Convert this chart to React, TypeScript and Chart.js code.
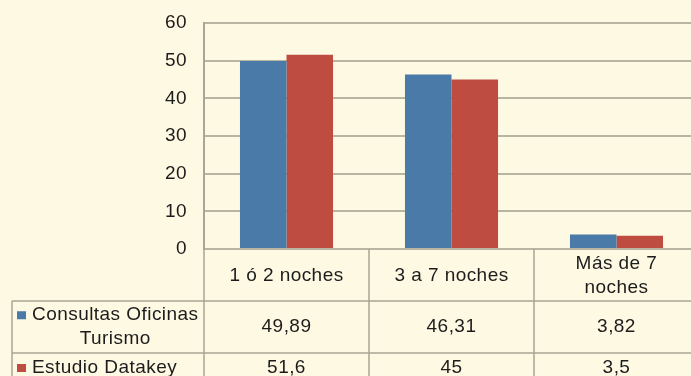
import React, { useEffect, useRef } from "react";
import { Chart, registerables } from "chart.js";

Chart.register(...registerables);

// Categories (multi-line labels as shown in the data table header)
const categories: string[][] = [["1 ó 2 noches"], ["3 a 7 noches"], ["Más de 7", "noches"]];

// Series names (wrapped as in the table's legend column)
const seriesNames: string[][] = [["Consultas Oficinas", "Turismo"], ["Estudio Datakey"]];

// Series values (%)
const consultasOficinas: number[] = [49.89, 46.31, 3.82];
const estudioDatakey: number[] = [51.6, 45, 3.5];

// Value axis
const yMin = 0;
const yMax = 60;
const yStep = 10;

const seriesColors = ["#4A7AA7", "#BE4C41"];
const BG = "#FEF9E3";
const TEXT = "#1c1c1c";
const FONT_FAMILY = '"Liberation Sans", Arial, Helvetica, sans-serif';
const FONT_SIZE = 19;
const LETTER_SPACING = "0.45px";
const GRID = "#b9b5a3";
const TABLE_LINE = "#a8a493";

const fmt = (v: number) => String(v).replace(".", ",");

// Slightly wider letter spacing for every label on the canvas
const spacingPlugin = {
  id: "letterSpacing",
  beforeDraw(chart: any) {
    (chart.ctx as any).letterSpacing = LETTER_SPACING;
  },
};

// Draws the data table (category header, legend keys and values) under the plot
const dataTablePlugin = {
  id: "dataTable",
  afterDraw(chart: any) {
    const { ctx, chartArea } = chart;
    const xScale = chart.scales.x;
    const n = categories.length;
    const colW = (chartArea.right - chartArea.left) / n;
    const top = chartArea.bottom;
    const headerH = 52;
    const rowHs = [52, 30];
    const tableLeft = 12;
    const lineH = 23.5;
    const rowTops = [top + headerH, top + headerH + rowHs[0]];
    const bottom = rowTops[1] + rowHs[1];

    const line = (x1: number, y1: number, x2: number, y2: number) => {
      ctx.beginPath();
      ctx.moveTo(x1, y1);
      ctx.lineTo(x2, y2);
      ctx.stroke();
    };

    ctx.save();
    ctx.letterSpacing = LETTER_SPACING;
    ctx.strokeStyle = TABLE_LINE;
    ctx.lineWidth = 1.5;
    for (let i = 0; i <= n; i++) {
      const x = chartArea.left + i * colW;
      line(x, top, x, bottom);
    }
    line(tableLeft, rowTops[0], tableLeft, bottom);
    [rowTops[0], rowTops[1], bottom].forEach((y) => line(tableLeft, y, chartArea.right, y));

    ctx.font = `${FONT_SIZE}px ${FONT_FAMILY}`;
    ctx.textBaseline = "middle";
    ctx.textAlign = "center";
    ctx.fillStyle = TEXT;

    const drawLines = (lines: string[], cx: number, cy: number) => {
      lines.forEach((t, k) => {
        ctx.fillText(t, cx, cy + (k - (lines.length - 1) / 2) * lineH);
      });
    };

    categories.forEach((lines, i) => {
      drawLines(lines, xScale.getPixelForValue(i), top + headerH / 2 + 1);
    });

    chart.data.datasets.forEach((ds: any, r: number) => {
      const cy = rowTops[r] + rowHs[r] / 2;
      ctx.fillStyle = TEXT;
      (ds.data as number[]).forEach((v, i) => {
        ctx.fillText(fmt(v), xScale.getPixelForValue(i), cy);
      });
      const names = seriesNames[r];
      const firstY = cy - ((names.length - 1) / 2) * lineH;
      ctx.fillStyle = ds.backgroundColor;
      ctx.fillRect(17, firstY - 4, 9, 8);
      ctx.fillStyle = TEXT;
      const textLeft = 32;
      const widest = Math.max(...names.map((t) => ctx.measureText(t).width));
      drawLines(names, textLeft + widest / 2, cy);
    });
    ctx.restore();
  },
};

export default function App() {
  const canvasRef = useRef<HTMLCanvasElement | null>(null);

  useEffect(() => {
    document.body.style.margin = "0";
    const canvas = canvasRef.current;
    if (!canvas) return;
    const chart = new Chart(canvas, {
      type: "bar",
      data: {
        labels: categories,
        datasets: [
          {
            label: seriesNames[0].join(" "),
            data: consultasOficinas,
            backgroundColor: seriesColors[0],
            borderWidth: 0,
            categoryPercentage: 0.564,
            barPercentage: 1,
          },
          {
            label: seriesNames[1].join(" "),
            data: estudioDatakey,
            backgroundColor: seriesColors[1],
            borderWidth: 0,
            categoryPercentage: 0.564,
            barPercentage: 1,
          },
        ],
      },
      options: {
        responsive: false,
        animation: false,
        devicePixelRatio: 1,
        layout: { padding: { left: 0, right: 21, top: 23, bottom: 127 } },
        plugins: {
          legend: { display: false },
          tooltip: { enabled: false },
        },
        scales: {
          x: { display: false, offset: true },
          y: {
            min: yMin,
            max: yMax,
            ticks: {
              stepSize: yStep,
              padding: 0,
              color: TEXT,
              font: { family: FONT_FAMILY, size: FONT_SIZE },
            },
            grid: {
              color: GRID,
              lineWidth: 2,
              drawTicks: true,
              tickLength: 17,
              tickColor: "rgba(0,0,0,0)",
            },
            border: { display: true, color: "#aaa695", width: 2 },
            afterFit(scale: any) {
              scale.width = 204;
            },
          },
        },
      },
      plugins: [spacingPlugin, dataTablePlugin],
    });
    return () => chart.destroy();
  }, []);

  return (
    <div style={{ width: 691, height: 376, overflow: "hidden", background: BG, position: "relative" }}>
      <canvas ref={canvasRef} width={720} height={376} style={{ width: 720, height: 376, display: "block" }} />
    </div>
  );
}
